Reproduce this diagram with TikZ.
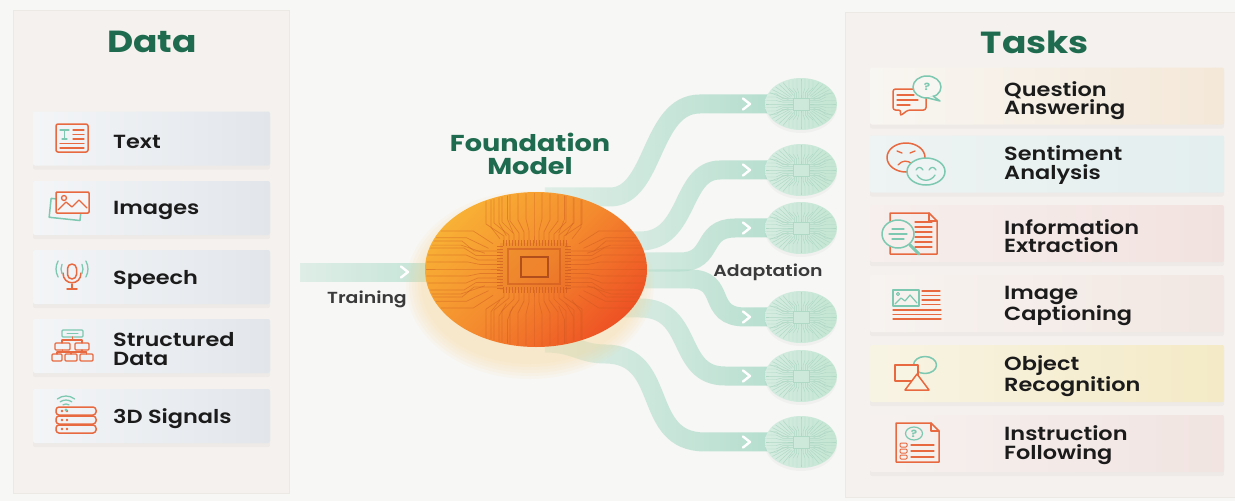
\documentclass[tikz,border=0pt]{standalone}
\usepackage{fontspec}
\newfontfamily\pop[FakeStretch=1.18]{Poppins}
\newfontfamily\popsb[FakeStretch=1.18]{Poppins SemiBold}
\usetikzlibrary{shapes.geometric,shadows,fadings,calc}
\definecolor{bgc}{HTML}{F7F7F5}
\definecolor{panelc}{HTML}{F4F1EE}
\definecolor{panelb}{HTML}{ECE8E4}
\definecolor{ttlc}{HTML}{1E6B4F}
\definecolor{txtc}{HTML}{1B1B1B}
\definecolor{grayt}{HTML}{3A3A3A}
\definecolor{icoO}{HTML}{E8693F}
\definecolor{icoT}{HTML}{7CC8B0}
\definecolor{lboxA}{HTML}{F3F5F7}
\definecolor{lboxB}{HTML}{E2E6EB}
\definecolor{stripc}{HTML}{AEDCCA}
\definecolor{fmA}{HTML}{F8B035}
\definecolor{fmB}{HTML}{F48A2E}
\definecolor{fmC}{HTML}{EE5224}
\definecolor{tracec}{HTML}{C9561F}
\definecolor{glowc}{HTML}{FAD690}
\definecolor{ciA}{HTML}{D6ECE2}
\definecolor{ciB}{HTML}{C4E6D2}
\definecolor{mtrc}{HTML}{AFD8C5}
\definecolor{qaA}{HTML}{F8F6F2}\definecolor{qaB}{HTML}{F4E8D8}
\definecolor{saA}{HTML}{EEF3F3}\definecolor{saB}{HTML}{E3EEEE}
\definecolor{ieA}{HTML}{F6EFED}\definecolor{ieB}{HTML}{F2E2DF}
\definecolor{icA}{HTML}{F7F3F0}\definecolor{icB}{HTML}{F2E7E2}
\definecolor{orA}{HTML}{F8F4E4}\definecolor{orB}{HTML}{F4EAC6}
\definecolor{ifA}{HTML}{F6F1EF}\definecolor{ifB}{HTML}{F1E4E1}
\tikzfading[name=stripfade, left color=transparent!70, right color=transparent!0]
\newcommand\ItmF{\popsb\fontsize{19}{18.5}\selectfont}
\newcommand\TtlF{\pop\bfseries\fontsize{30.5}{31}\selectfont}
\newcommand\FmF{\pop\bfseries\fontsize{23}{23}\selectfont}
\newcommand\SmF{\popsb\fontsize{16}{17}\selectfont}
\newcommand\QmF{\pop\bfseries\fontsize{10}{10}\selectfont}
\pgfdeclarelayer{back}
\pgfsetlayers{back,main}
\begin{document}
\begin{tikzpicture}[x=1pt,y=-1pt,
  panel/.style={fill=panelc, draw=panelb, line width=0.8pt},
  lbox/.style={rectangle, minimum width=237pt, minimum height=54pt, inner sep=0pt, left color=lboxA, right color=lboxB, rounded corners=2pt, drop shadow={shadow xshift=0pt, shadow yshift=-4pt, opacity=0.06}},
  rbox/.style={rectangle, minimum width=354pt, minimum height=57pt, inner sep=0pt, rounded corners=2pt, drop shadow={shadow xshift=0pt, shadow yshift=-4pt, opacity=0.06}},
  ltxt/.style={anchor=west, inner sep=0pt, font=\ItmF, text=txtc, align=left},
  ttl/.style={inner sep=0pt, text=ttlc},
  strip/.style={draw=stripc, line width=19pt, path fading=stripfade},
  chev/.style={draw=white, line width=2.4pt, line cap=round, line join=round},
  smallc/.style={ellipse, minimum width=72pt, minimum height=52pt, inner sep=0pt, left color=ciA, right color=ciB, drop shadow={shadow xshift=0pt, shadow yshift=-3pt, opacity=0.05}},
  fmnode/.style={ellipse, minimum width=222pt, minimum height=155pt, inner sep=0pt, top color=fmA, bottom color=fmC, middle color=fmB, shading angle=45},
  trace/.style={draw=tracec, line width=0.7pt, opacity=0.45},
  pin/.style={draw=tracec, line width=0.6pt, opacity=0.6},
  mtr/.style={draw=mtrc, line width=0.45pt},
  ico/.style={draw=icoO, line width=1.5pt, line cap=round, line join=round},
  icot/.style={draw=icoT, line width=1.5pt, line cap=round, line join=round},
  minichip/.pic={
    \begin{scope}
      \clip (0,0) ellipse [x radius=35, y radius=25];
      \foreach \k in {-3,...,3} {
        \draw[mtr] (-8,{\k*1.8}) -- (-18,{\k*1.8}) -- (-25,{\k*3.5}) -- (-40,{\k*3.5});
        \draw[mtr] (8,{\k*1.8}) -- (18,{\k*1.8}) -- (25,{\k*3.5}) -- (40,{\k*3.5});
        \draw[mtr] ({\k*2.2},-6) -- ({\k*2.2},-11) -- ({\k*4},-16) -- ({\k*4},-30);
        \draw[mtr] ({\k*2.2},6) -- ({\k*2.2},11) -- ({\k*4},16) -- ({\k*4},30);
      }
      \foreach \sx in {1,-1} { \foreach \sy in {1,-1} { \foreach \a in {26,34,42,50,58} {
        \draw[mtr] ({\sx*14*cos(\a)},{\sy*10*sin(\a)}) -- ({\sx*40*cos(\a)},{\sy*30*sin(\a)});
      }}}
      \draw[mtr] (-8,-6) rectangle (8,6);
    \end{scope}
  }
]
\useasboundingbox (0,0) rectangle (1235,501);
\begin{pgfonlayer}{back}
  \fill[bgc] (0,0) rectangle (1235,501);
  \path[panel] (13,10) rectangle (289,493);
  \path[panel] (845,12) rectangle (1240,497);
\end{pgfonlayer}

% ---- foundation model ----
\node[fmnode] (fm) at (536,269.5) {};
\begin{scope}
  \clip (fm.center) ellipse [x radius=110, y radius=76.5];
  \foreach \k in {-4,...,4} {
    \draw[trace] (500,{269+4.5*\k}) -- ({482-2*abs(\k)},{269+4.5*\k}) -- ++(-12,{2.5*\k}) -- (400,{269+7*\k});
    \draw[trace] (568,{269+4.5*\k}) -- ({586+2*abs(\k)},{269+4.5*\k}) -- ++(12,{2.5*\k}) -- (680,{269+7*\k});
  }
  \foreach \k in {-6,...,6} {
    \draw[trace] ({534+5*\k},243) -- ({534+5*\k},{230+abs(\k)}) -- ++({3*\k},-12) -- ({534+8*\k},150);
    \draw[trace] ({534+5*\k},290) -- ({534+5*\k},{303-abs(\k)}) -- ++({3*\k},12) -- ({534+8*\k},390);
  }
  \foreach \sx in {1,-1} { \foreach \sy in {1,-1} {
    \foreach \a in {24,32,40} {
      \draw[trace] ($(fm.center)+({\sx*56*cos(\a)},{\sy*40*sin(\a)})$) -- ($(fm.center)+({\sx*82*cos(\a)},{\sy*60*sin(\a)})$) -- ++({\sx*45},0);
    }
    \foreach \a in {50,58,66} {
      \draw[trace] ($(fm.center)+({\sx*56*cos(\a)},{\sy*40*sin(\a)})$) -- ($(fm.center)+({\sx*70*cos(\a)},{\sy*55*sin(\a)})$) -- ++(0,{\sy*45});
    }
  }}
  \fill[tracec, opacity=0.12] (500,243) rectangle (568,290);
  \foreach \x in {503,506,...,566} { \draw[pin] (\x,240) -- (\x,246); \draw[pin] (\x,287) -- (\x,293); }
  \foreach \y in {246,249,...,288} { \draw[pin] (497,\y) -- (503,\y); \draw[pin] (565,\y) -- (571,\y); }
  \draw[draw=tracec, opacity=0.55, line width=1.6pt] (508,249) rectangle (560,284);
  \draw[draw=tracec!85!black, fill=fmB!90!tracec, line width=2pt, opacity=0.9] (521,257) rectangle (548,277);
\end{scope}

% ---- adapted models ----
\foreach \i/\yy in {1/104,2/170,3/228,4/317,5/376,6/442} {
  \node[smallc] (c\i) at (801,\yy) {};
}
\foreach \i in {1,...,6} {
  \pic at (c\i.center) {minichip};
}

% ---- strips (behind) ----
\coordinate (tin) at (300,272);
\coordinate (s1) at (545,197);
\coordinate (s2) at (600,241);
\coordinate (s3) at (600,262);
\coordinate (s4) at (600,279);
\coordinate (s5) at (600,308);
\coordinate (s6) at (545,343);
\begin{pgfonlayer}{back}
  \draw[strip] (tin) -- (fm.center |- tin);
  \draw[strip] (s1) -- (610,197) .. controls (655,197) and (650,104) .. (700,104) -- (c1.center);
  \draw[strip] (s2) -- (640,241) .. controls (690,241) and (680,170) .. (720,170) -- (c2.center);
  \draw[strip] (s3) -- (680,262) .. controls (715,262) and (700,228) .. (735,228) -- (c3.center);
  \draw[strip] (s4) -- (690,279) .. controls (728,279) and (705,317) .. (745,317) -- (c4.center);
  \draw[strip] (s5) -- (640,308) .. controls (695,308) and (675,376) .. (725,376) -- (c5.center);
  \draw[strip] (s6) .. controls (575,343) and (580,354) .. (605,354) .. controls (670,354) and (640,442) .. (705,442) -- (c6.center);
  \foreach \r in {1,...,6} {
    \fill[glowc, opacity=0.08] (530,285) ellipse [x radius={106+3*\r}, y radius={76+3*\r}];
  }
\end{pgfonlayer}
\foreach \i in {1,...,6} {
  \draw[chev] ($(c\i.center)+(-58,-5.5)$) -- ++(7,5.5) -- ++(-7,5.5);
}
\draw[chev] ($(tin)+(101,-5.5)$) -- ++(7,5.5) -- ++(-7,5.5);

% ---- titles and labels ----
\node[ttl, font=\TtlF] (tData) at (152,42) {Data};
\node[ttl, font=\TtlF] (tTasks) at (1035,42) {Tasks};
\node[ttl, font=\FmF, align=center] (tFM) at (530,154) {Foundation\\Model};
\node[font=\SmF, text=grayt, inner sep=0pt] (lTrain) at (367,299) {Training};
\node[font=\SmF, text=grayt, inner sep=0pt] (lAdapt) at (768,272) {Adaptation};

% ---- data boxes ----
\node[lbox] (bText) at (151.5,138.5) {};
\node[lbox] (bImg) at (151.5,208) {};
\node[lbox] (bSp) at (151.5,277) {};
\node[lbox] (bSD) at (151.5,346) {};
\node[lbox] (b3D) at (151.5,416) {};
\node[ltxt] (tText) at (113,141.5) {Text};
\node[ltxt] (tImg) at (113,210) {Images};
\node[ltxt] (tSp) at (113,280) {Speech};
\node[ltxt] (tSD) at (113,349) {Structured\\Data};
\node[ltxt] (t3D) at (113,418.5) {3D Signals};

% text icon
\draw[ico, rounded corners=2pt] (56,124) rectangle (88,152);
\draw[icot, line width=1.3pt] (60,130) -- (69,130) (64.5,130) -- (64.5,139) (62,139) -- (67,139);
\draw[ico, line width=1.2pt] (73,130) -- (84,130) (73,134.5) -- (84,134.5) (73,139) -- (84,139) (60,143.5) -- (84,143.5) (60,148) -- (84,148);
% images icon
\draw[icot, rotate around={-6:(66,210)}] (50,200) rectangle (81,219);
\draw[ico, fill=lboxA, rounded corners=1pt] (56,192) rectangle (89,213);
\draw[ico, line width=1.3pt] (58,210) -- (66,202) -- (72,207) -- (79,200) -- (87,208);
\draw[ico, line width=1.3pt] (64,198) circle [radius=2.5];
% speech icon
\draw[ico, rounded corners=4.5pt] (67.5,264) rectangle (76.5,279);
\draw[ico] (63,273) .. controls (63,286) and (81,286) .. (81,273);
\draw[ico] (72,284) -- (72,289) (67,289) -- (77,289);
\draw[icot, line width=1.3pt] ($(72,269)+(155:11)$) arc (155:205:11);
\draw[icot, line width=1.3pt] ($(72,269)+(150:16)$) arc (150:210:16);
\draw[icot, line width=1.3pt] ($(72,269)+(25:11)$) arc (25:-25:11);
\draw[icot, line width=1.3pt] ($(72,269)+(30:16)$) arc (30:-30:16);
% structured data icon
\draw[icot, line width=1.3pt, rounded corners=1pt] (62,330) rectangle (83,337);
\draw[icot, line width=1pt] (67,333.5) -- (78,333.5);
\draw[ico, line width=1.3pt] (72.5,337) -- (72.5,340) (62,340) -- (82,340) (62,340) -- (62,343) (82,340) -- (82,343);
\draw[ico, line width=1.3pt, rounded corners=1pt] (55,343) rectangle (70,350) (75,343) rectangle (89,350);
\draw[ico, line width=1.3pt] (62.5,350) -- (62.5,352) (82,350) -- (82,352) (57,352) -- (86.5,352) (57,352) -- (57,354) (71,352) -- (71,354) (86.5,352) -- (86.5,354);
\draw[ico, line width=1.3pt, rounded corners=1pt] (52,354) rectangle (62,361) (65,354) rectangle (77,361) (80,354) rectangle (93,361);
% 3d signals icon
\foreach \yy in {407,416,425} {
  \draw[ico, rounded corners=3pt] (56,\yy) rectangle (96,\yy+8);
  \fill[icoO] (62,\yy+4) circle [radius=1.3];
  \fill[icoO] (67,\yy+4) circle [radius=1.3];
}
\draw[icot, line width=1.3pt] ($(66,410)+(240:6)$) arc (240:300:6);
\draw[icot, line width=1.3pt] ($(66,410)+(235:10)$) arc (235:305:10);
\draw[icot, line width=1.3pt] ($(66,410)+(232:14)$) arc (232:308:14);
\fill[icoT] (66,410) circle [radius=1.6];

% ---- task boxes ----
\node[rbox, left color=qaA, right color=qaB] (bQA) at (1047,96) {};
\node[rbox, left color=saA, right color=saB] (bSA) at (1047,164) {};
\node[rbox, left color=ieA, right color=ieB] (bIE) at (1047,233.5) {};
\node[rbox, left color=icA, right color=icB] (bIC) at (1047,303.5) {};
\node[rbox, left color=orA, right color=orB] (bOR) at (1047,373.5) {};
\node[rbox, left color=ifA, right color=ifB] (bIF) at (1047,443.5) {};
\node[ltxt] (tQA) at (1004,100.5) {Question\\Answering};
\node[ltxt] (tSA) at (1004,165) {Sentiment\\Analysis};
\node[ltxt] (tIE) at (1004,236) {Information\\Extraction};
\node[ltxt] (tIC) at (1004,306) {Image\\Captioning};
\node[ltxt] (tOR) at (1004,376) {Object\\Recognition};
\node[ltxt] (tIF) at (1004,445) {Instruction\\Following};

% question answering icon
\draw[ico, rounded corners=2.5pt] (893,89) -- (926,89) -- (926,110) -- (908,110) -- (900,116) -- (901,110) -- (893,110) -- cycle;
\draw[ico, line width=1.3pt] (897,95) -- (914,95) (897,100) -- (918,100) (897,105) -- (910,105);
\draw[icot, fill=qaA] (927,87) ellipse [x radius=14, y radius=11];
\draw[icot, fill=qaA] (933,96) -- (940,101) -- (928,98);
\node[text=icoT, font=\QmF, inner sep=0pt] (qm1) at (927,87) {?};
% sentiment icon
\draw[ico] (906,157.5) ellipse [x radius=19, y radius=14.5];
\draw[ico, line width=1.3pt] (897,151) -- (902,153) (915,151) -- (910,153);
\draw[ico, line width=1.3pt] (898,165) .. controls (902,160) and (908,160) .. (912,164);
\draw[icot, fill=saA] (926,171.5) ellipse [x radius=19, y radius=13.5];
\draw[icot, line width=1.3pt] (916,170) .. controls (918,166.5) and (921,166.5) .. (923,170);
\draw[icot, line width=1.3pt] (929,170) .. controls (931,166.5) and (934,166.5) .. (936,170);
\draw[icot, line width=1.3pt] (917,175) .. controls (921,182) and (931,182) .. (935,175);
% information extraction icon
\draw[ico] (890,213) -- (929,213) -- (937,221) -- (937,254) -- (890,254) -- cycle;
\draw[ico, line width=1.2pt] (929,213) -- (929,221) -- (937,221);
\foreach \yy in {222,227,232,237,242,247} { \draw[ico, line width=1.2pt] (915,\yy) -- (932,\yy); }
\draw[icot, line width=3pt] (910,245) -- (919,254);
\draw[icot, fill=ieA] (898,234) ellipse [x radius=16, y radius=14];
\draw[icot, line width=1.2pt] (892,229) -- (904,229) (889,234) -- (907,234) (892,239) -- (904,239);
% image captioning icon
\draw[icot, line width=1.3pt] (893,290) rectangle (919,306);
\draw[icot, line width=1.2pt] (895,304) -- (901,298) -- (905,301) -- (910,295) -- (917,303);
\draw[icot, line width=1pt] (898,294) circle [radius=1.6];
\draw[ico, line width=1.3pt] (922,291) -- (940,291) (922,295.5) -- (940,295.5) (922,300) -- (940,300) (922,304.5) -- (940,304.5);
\draw[ico, line width=1.3pt] (893,310) -- (941,310) (893,314.5) -- (941,314.5) (893,319) -- (941,319);
% object recognition icon
\draw[icot] (925,365) ellipse [x radius=11.5, y radius=8.5];
\draw[ico, fill=orA] (895,365) rectangle (918,381);
\draw[ico, fill=orA] (917,374) -- (929,390) -- (905,390) -- cycle;
% instruction following icon
\draw[ico] (896,423) -- (931,423) -- (939,431) -- (939,462) -- (896,462) -- cycle;
\draw[ico, line width=1.2pt] (931,423) -- (931,431) -- (939,431);
\draw[icot, line width=1.2pt] (914,433.5) ellipse [x radius=8.5, y radius=6.5];
\node[text=icoT, font=\QmF, inner sep=0pt] (qm2) at (914,433.5) {?};
\foreach \yy in {445,451,457} {
  \draw[ico, line width=1pt, rounded corners=1pt] (900,\yy-2) rectangle (907,\yy+2);
  \draw[ico, line width=1.2pt] (911,\yy) -- (934,\yy);
}
\end{tikzpicture}
\end{document}
